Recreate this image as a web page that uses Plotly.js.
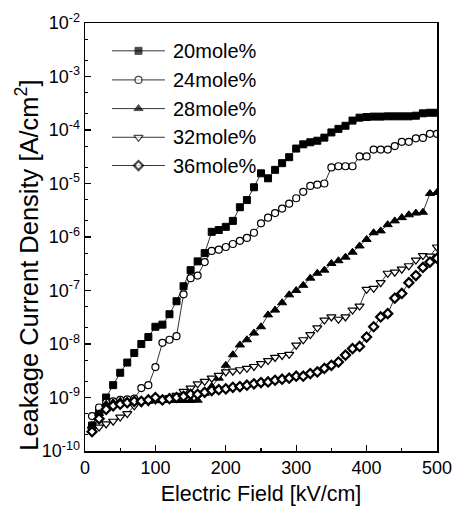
<!DOCTYPE html>
<html>
<head>
<meta charset="utf-8">
<script src="https://cdn.plot.ly/plotly-3.0.1.min.js"></script>
<style>html,body{margin:0;padding:0;background:#fff;}#chart{width:457px;height:514px;}</style>
</head>
<body>
<div id="chart"></div>
<script>
const field = [10,20,30,40,50,60,70,80,90,100,110,120,130,140,150,160,170,180,190,200,210,220,230,240,250,260,270,280,290,300,310,320,330,340,350,360,370,380,390,400,410,420,430,440,450,460,470,480,490,500];

const mole20 = [3e-10,5.5e-10,1.0e-9,1.7e-9,2.9e-9,4.5e-9,6.8e-9,1.0e-8,1.35e-8,2.1e-8,2.3e-8,3.6e-8,6.3e-8,1.2e-7,2.4e-7,3.5e-7,5.0e-7,1.25e-6,1.35e-6,1.55e-6,2.0e-6,3.6e-6,4.9e-6,8.5e-6,1.55e-5,1.25e-5,1.8e-5,2.4e-5,3.1e-5,4.5e-5,5.4e-5,5.9e-5,6.3e-5,7.2e-5,9.0e-5,1.05e-4,1.2e-4,1.5e-4,1.7e-4,1.75e-4,1.78e-4,1.78e-4,1.8e-4,1.8e-4,1.8e-4,1.8e-4,1.85e-4,2.05e-4,2.1e-4,2.1e-4];

const mole24 = [4.5e-10,6.5e-10,8e-10,8.5e-10,9e-10,9.2e-10,9.5e-10,1.5e-9,1.7e-9,3.7e-9,1.05e-8,1.2e-8,1.4e-8,8.5e-8,1.7e-7,1.9e-7,3.4e-7,5.5e-7,5.8e-7,6.5e-7,7.4e-7,8.5e-7,9.6e-7,1.2e-6,1.8e-6,2.3e-6,2.8e-6,3.4e-6,4.2e-6,5.3e-6,7e-6,9e-6,9.5e-6,1e-5,2e-5,2.1e-5,2.1e-5,2.1e-5,3.2e-5,3.2e-5,4.3e-5,4.3e-5,4.3e-5,5e-5,6e-5,6e-5,7e-5,7.1e-5,8.5e-5,8.5e-5];

const mole28 = [3e-10,5e-10,7.5e-10,8e-10,8.5e-10,8.5e-10,8.5e-10,8.5e-10,8.5e-10,8.7e-10,8.8e-10,8.8e-10,8.8e-10,8.8e-10,8.8e-10,8.9e-10,1.2e-9,1.6e-9,2.3e-9,4.0e-9,6.3e-9,9.6e-9,1.2e-8,1.6e-8,2.1e-8,3.5e-8,4.3e-8,5.9e-8,8.3e-8,1.0e-7,1.25e-7,1.7e-7,2.1e-7,2.4e-7,3.2e-7,3.6e-7,4.2e-7,5.2e-7,6.8e-7,9e-7,1.2e-6,1.3e-6,1.7e-6,2.0e-6,2.3e-6,2.6e-6,2.8e-6,2.9e-6,6.5e-6,6.8e-6];

const mole32 = [2.5e-10,2.8e-10,3.2e-10,3.6e-10,4.3e-10,5e-10,7e-10,8e-10,8.3e-10,9e-10,9e-10,1e-9,1.1e-9,1.3e-9,1.5e-9,1.8e-9,2e-9,2.3e-9,2.6e-9,3e-9,3.1e-9,3.3e-9,3.5e-9,3.8e-9,4.3e-9,4.9e-9,5.6e-9,6.1e-9,6.4e-9,9.5e-9,1.2e-8,1.5e-8,2e-8,2.8e-8,3.2e-8,2.9e-8,3.2e-8,4.3e-8,5.1e-8,1.05e-7,1.1e-7,1.4e-7,2.1e-7,2.2e-7,2.5e-7,2.9e-7,3.7e-7,4.5e-7,4.4e-7,6.5e-7];

const mole36 = [2.3e-10,4e-10,6e-10,7e-10,7.5e-10,8e-10,8.5e-10,8.5e-10,9e-10,1e-9,9e-10,9.5e-10,1e-9,1.05e-9,1.15e-9,1.15e-9,1.25e-9,1.35e-9,1.4e-9,1.45e-9,1.55e-9,1.6e-9,1.7e-9,1.8e-9,1.9e-9,1.95e-9,2.1e-9,2.2e-9,2.3e-9,2.5e-9,2.5e-9,2.8e-9,3e-9,3.5e-9,4e-9,4.6e-9,6.2e-9,8.2e-9,9e-9,1.35e-8,2.1e-8,3.2e-8,3.7e-8,7.2e-8,8.8e-8,1.4e-7,1.9e-7,2.7e-7,3.4e-7,4e-7];

const seriesNames = ['20mole%','24mole%','28mole%','32mole%','36mole%'];
const seriesData = [mole20, mole24, mole28, mole32, mole36];
const xTicks = [0,100,200,300,400,500];
const yTickVals = [1e-10,1e-9,1e-8,1e-7,1e-6,1e-5,1e-4,1e-3,1e-2];
const yTickText = ['10<sup>-10</sup>','10<sup>-9</sup>','10<sup>-8</sup>','10<sup>-7</sup>','10<sup>-6</sup>','10<sup>-5</sup>','10<sup>-4</sup>','10<sup>-3</sup>','10<sup>-2</sup>'];
const xTitle = 'Electric Field [kV/cm]';
const yTitle = 'Leakage Current Density [A/cm<sup>2</sup>]';

const FONT = 'Liberation Sans, Arial, sans-serif';

const styles = [
  {symbol:'square', color:'black', lw:1, size:7},
  {symbol:'circle', color:'white', lw:1.2, size:7},
  {symbol:'triangle-up', color:'black', lw:1, size:8},
  {symbol:'triangle-down', color:'white', lw:1.2, size:8},
  {symbol:'diamond', color:'white', lw:2.2, size:7}
];

const traces = [];
seriesData.forEach((ys, i) => {
  const s = styles[i];
  traces.push({
    x: field, y: ys, type:'scatter', mode:'lines+markers', name: seriesNames[i],
    showlegend:false,
    line:{color:'black', width:0.8},
    marker:{symbol:s.symbol, size:s.size, color:s.color, line:{color:'black', width:s.lw}}
  });
});

// custom legend drawn on an overlay axis in plot-fraction units
const legX0 = 0.077, legXm = 0.152, legX1 = 0.227, legTextX = 0.243;
const legRows = [0.935, 0.867, 0.800, 0.733, 0.667];
const annotations = [];
seriesNames.forEach((nm, i) => {
  const s = styles[i];
  traces.push({
    x:[legX0, legXm, legX1], y:[legRows[i], legRows[i], legRows[i]],
    xaxis:'x2', yaxis:'y2', type:'scatter', mode:'lines+markers', showlegend:false, hoverinfo:'skip',
    line:{color:'black', width:0.8},
    marker:{symbol:s.symbol, size:[0, s.size, 0], color:s.color, line:{color:'black', width:[0, s.lw, 0]}}
  });
  annotations.push({
    xref:'paper', yref:'paper', x:legTextX, y:legRows[i], xanchor:'left', yanchor:'middle',
    text:nm, showarrow:false, font:{family:FONT, size:20, color:'black'}
  });
});
// y axis title as a rotated annotation (placed lower than the axis centre, as in the reference)
annotations.push({
  xref:'paper', yref:'paper', x:-0.165, y:0.435, xanchor:'center', yanchor:'middle',
  textangle:-90, text:yTitle, showarrow:false, font:{family:FONT, size:25.5, color:'black'}
});

const layout = {
  width:457, height:514,
  margin:{l:85, r:20, t:23, b:63},
  paper_bgcolor:'white', plot_bgcolor:'white',
  font:{family:FONT, color:'black'},
  showlegend:false,
  xaxis:{
    range:[0,500], tickvals:xTicks, ticks:'inside', ticklen:6, tickwidth:1.2, tickcolor:'black',
    minor:{dtick:50, ticks:'inside', ticklen:3, tickcolor:'black'},
    showline:true, linecolor:'black', linewidth:1.5, mirror:true, showgrid:false, zeroline:false,
    tickfont:{size:18},
    title:{text:xTitle, font:{size:21.5}, standoff:9}
  },
  yaxis:{
    type:'log', range:[-10,-2], tickvals:yTickVals, ticktext:yTickText,
    ticks:'inside', ticklen:6, tickwidth:1.2, tickcolor:'black',
    minor:{ticks:'inside', ticklen:3, tickcolor:'black', showgrid:false},
    showline:true, linecolor:'black', linewidth:1.5, mirror:true, showgrid:false, zeroline:false,
    tickfont:{size:18}
  },
  xaxis2:{range:[0,1], overlaying:'x', visible:false, fixedrange:true},
  yaxis2:{range:[0,1], overlaying:'y', visible:false, fixedrange:true},
  annotations: annotations
};

Plotly.newPlot('chart', traces, layout, {staticPlot:true, displayModeBar:false});
</script>
</body>
</html>
